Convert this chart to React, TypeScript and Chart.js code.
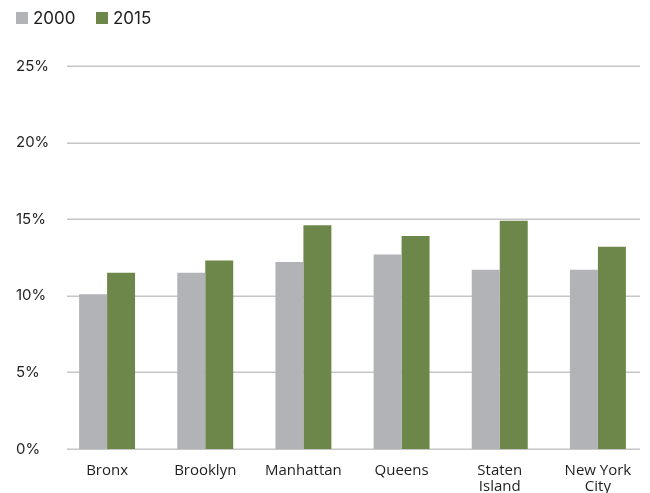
import React, { useEffect, useRef } from "react";
import { Chart, registerables } from "chart.js";

Chart.register(...registerables);

const categories: (string | string[])[] = [
  "Bronx",
  "Brooklyn",
  "Manhattan",
  "Queens",
  ["Staten", "Island"],
  ["New York", "City"],
];
const series2000 = [10.1, 11.5, 12.2, 12.7, 11.7, 11.7];
const series2015 = [11.5, 12.3, 14.6, 13.9, 14.9, 13.2];
const seriesLabels = ["2000", "2015"];
const yTicks = [0, 5, 10, 15, 20, 25];

const GREY = "#b2b3b7";
const GREEN = "#6c8749";

const gridPlugin = {
  id: "insetGrid",
  beforeDatasetsDraw(chart: any) {
    const { ctx, chartArea, scales } = chart;
    const y = scales.y;
    ctx.save();
    ctx.strokeStyle = "#c6c6c6";
    ctx.lineWidth = 1.5;
    y.ticks.forEach((t: any) => {
      const py = Math.round(y.getPixelForValue(t.value)) + 0.25;
      ctx.beginPath();
      ctx.moveTo(chartArea.left + 9, py);
      ctx.lineTo(chartArea.right - 7, py);
      ctx.stroke();
    });
    ctx.restore();
  },
};

const legendPlugin = {
  id: "topLegend",
  afterDraw(chart: any) {
    const { ctx } = chart;
    ctx.save();
    ctx.font = "17px Inter, 'DejaVu Sans', sans-serif";
    ctx.textBaseline = "middle";
    ctx.textAlign = "left";
    const starts = [16, 96];
    chart.data.datasets.forEach((ds: any, i: number) => {
      const x = starts[i];
      ctx.fillStyle = ds.backgroundColor;
      ctx.fillRect(x, 12, 12, 12);
      ctx.fillStyle = "#1e1e1e";
      ctx.fillText(ds.label, x + 17, 18.5);
    });
    ctx.restore();
  },
};

export default function App() {
  const ref = useRef<HTMLCanvasElement>(null);
  useEffect(() => {
    document.body.style.margin = "0";
    if (!ref.current) return;
    const chart = new Chart(ref.current, {
      type: "bar",
      data: {
        labels: categories,
        datasets: [
          {
            label: seriesLabels[0],
            data: series2000,
            backgroundColor: GREY,
            categoryPercentage: 0.57,
            barPercentage: 1,
          },
          {
            label: seriesLabels[1],
            data: series2015,
            backgroundColor: GREEN,
            categoryPercentage: 0.57,
            barPercentage: 1,
          },
        ],
      },
      options: {
        responsive: false,
        animation: false,
        layout: { padding: { left: 16, right: 3, top: 66, bottom: 0 } },
        plugins: {
          legend: { display: false },
          tooltip: { enabled: false },
        },
        scales: {
          x: {
            grid: { display: false, drawTicks: false },
            border: { display: false },
            ticks: {
              padding: 13,
              color: "#1e1e1e",
              font: { family: "'Open Sans', sans-serif", size: 15, lineHeight: 1.1 },
              maxRotation: 0,
              autoSkip: false,
            },
            afterFit: (s: any) => {
              s.height = 44;
            },
          },
          y: {
            min: 0,
            max: 25,
            grid: { display: false, drawTicks: false },
            border: { display: false },
            afterBuildTicks: (s: any) => {
              s.ticks = yTicks.map((v) => ({ value: v }));
            },
            ticks: {
              crossAlign: "far",
              color: "#222222",
              font: { family: "Inter, sans-serif", size: 15 },
              callback: (v: any) => v + "%",
            },
            afterFit: (s: any) => {
              s.width = 42;
            },
          },
        },
      },
      plugins: [gridPlugin, legendPlugin],
    });
    return () => chart.destroy();
  }, []);
  return <canvas ref={ref} width={650} height={493} style={{ display: "block" }} />;
}
